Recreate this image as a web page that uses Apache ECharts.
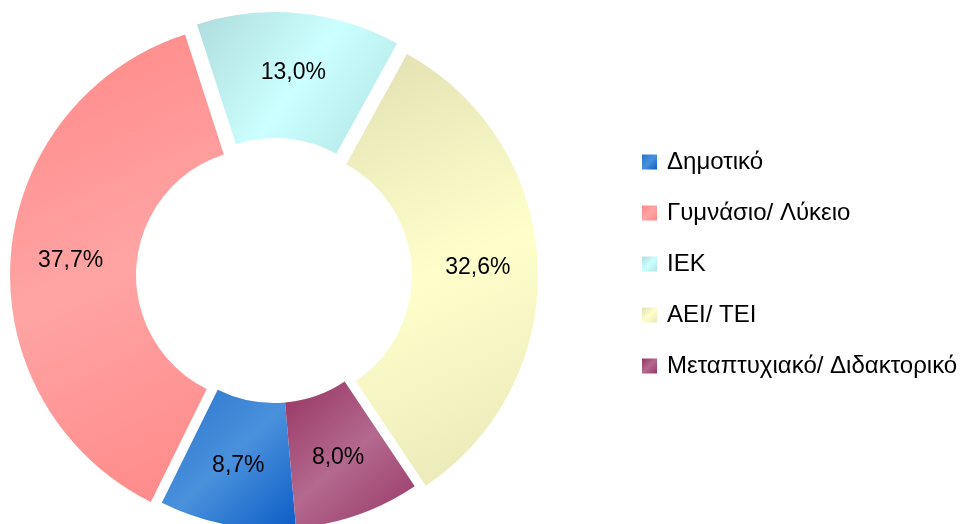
<!DOCTYPE html>
<html>
<head>
<meta charset="utf-8">
<script src="https://cdn.jsdelivr.net/npm/echarts@6/dist/echarts.min.js"></script>
<style>
html,body{margin:0;padding:0;background:#fff;}
#chart{width:967px;height:524px;}
</style>
</head>
<body>
<div id="chart"></div>
<script>
const categories = ['Δημοτικό', 'Γυμνάσιο/ Λύκειο', 'ΙΕΚ', 'ΑΕΙ/ ΤΕΙ', 'Μεταπτυχιακό/ Διδακτορικό'];
const values = [8.7, 37.7, 13.0, 32.6, 8.0];
const exploded = [false, true, true, true, false];
const colorStops = [
  ['#2a74cc', '#4a91dc', '#0b5cc6'],
  ['#ff8888', '#ffa4a4', '#ff8888'],
  ['#aedcdc', '#ccffff', '#b0e2e2'],
  ['#e2e0b2', '#ffffcc', '#e8e6b6'],
  ['#963462', '#b4698f', '#973765']
];

function grad(c) {
  return new echarts.graphic.LinearGradient(0, 0, 1, 1, [
    { offset: 0, color: c[0] },
    { offset: 0.5, color: c[1] },
    { offset: 1, color: c[2] }
  ]);
}

const data = categories.map((name, i) => ({
  name: name,
  value: values[i],
  selected: exploded[i],
  itemStyle: { color: grad(colorStops[i]) },
  select: { itemStyle: { color: grad(colorStops[i]) } }
}));

const chart = echarts.init(document.getElementById('chart'), null, { renderer: 'canvas' });
chart.setOption({
  backgroundColor: '#ffffff',
  animation: false,
  legend: {
    orient: 'vertical',
    left: 637,
    top: 145,
    itemWidth: 15,
    itemHeight: 15,
    itemGap: 27,
    icon: 'rect',
    selectedMode: false,
    textStyle: {
      fontFamily: 'Liberation Sans, Arial, sans-serif',
      fontSize: 24,
      lineHeight: 24,
      color: '#000',
      padding: [0, 0, 0, 5]
    },
    data: categories
  },
  series: [{
    type: 'pie',
    center: [274, 276],
    radius: [127, 253],
    startAngle: -85,
    clockwise: true,
    selectedMode: 'multiple',
    selectedOffset: 11,
    silent: true,
    label: {
      show: true,
      position: 'inside',
      fontFamily: 'Liberation Sans, Arial, sans-serif',
      fontSize: 23,
      color: '#000',
      formatter: p => p.value.toFixed(1).replace('.', ',') + '%'
    },
    labelLine: { show: false },
    emphasis: { disabled: true },
    data: data
  }]
});
</script>
</body>
</html>
